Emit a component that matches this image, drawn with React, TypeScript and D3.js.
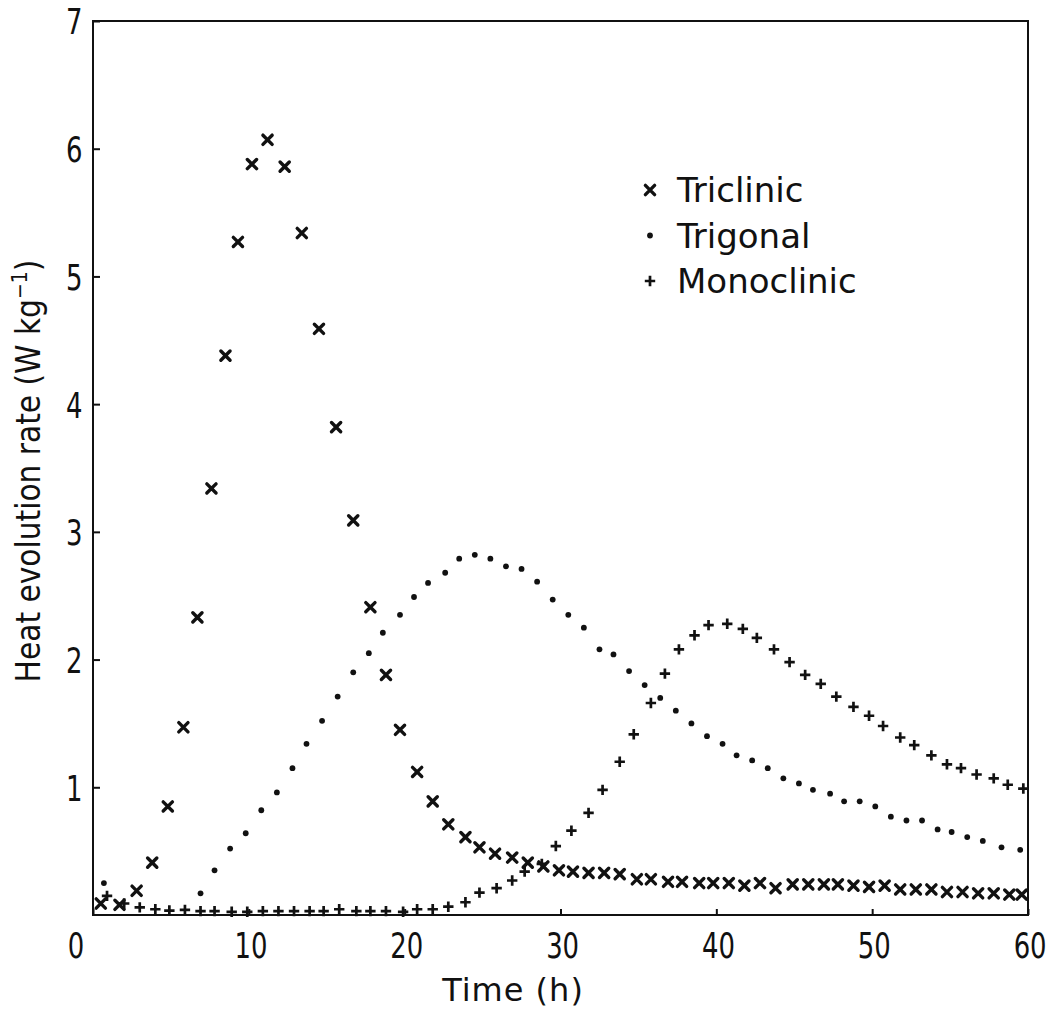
import React, { useRef, useEffect } from "react";
import * as d3 from "d3";

// Heat evolution rate (W/kg) vs time (h)
const triclinicTime = [0.5, 1.7, 2.8, 3.8, 4.8, 5.8, 6.7, 7.6, 8.5, 9.3, 10.2, 11.2, 12.3, 13.4, 14.5, 15.6, 16.7, 17.8, 18.8, 19.7, 20.8, 21.8, 22.8, 23.9, 24.8, 25.8, 26.9, 27.9, 28.9, 29.9, 30.8, 31.8, 32.8, 33.8, 34.9, 35.8, 36.9, 37.8, 38.9, 39.8, 40.8, 41.8, 42.8, 43.8, 44.9, 45.9, 46.9, 47.8, 48.8, 49.8, 50.8, 51.8, 52.8, 53.8, 54.8, 55.8, 56.8, 57.8, 58.8, 59.6];
const triclinicRate = [0.09, 0.08, 0.19, 0.41, 0.85, 1.47, 2.33, 3.34, 4.38, 5.27, 5.88, 6.07, 5.86, 5.34, 4.59, 3.82, 3.09, 2.41, 1.88, 1.45, 1.12, 0.89, 0.71, 0.61, 0.53, 0.48, 0.45, 0.41, 0.38, 0.35, 0.34, 0.33, 0.33, 0.32, 0.28, 0.28, 0.26, 0.26, 0.25, 0.25, 0.25, 0.23, 0.25, 0.21, 0.24, 0.24, 0.24, 0.24, 0.23, 0.22, 0.23, 0.2, 0.2, 0.2, 0.18, 0.18, 0.17, 0.17, 0.16, 0.16];

const trigonalTime = [0.7, 6.9, 7.8, 8.8, 9.8, 10.8, 11.8, 12.8, 13.7, 14.7, 15.7, 16.7, 17.7, 18.6, 19.7, 20.6, 21.5, 22.6, 23.5, 24.5, 25.5, 26.5, 27.5, 28.5, 29.5, 30.5, 31.5, 32.5, 33.4, 34.4, 35.4, 36.4, 37.4, 38.4, 39.4, 40.4, 41.3, 42.3, 43.3, 44.3, 45.3, 46.2, 47.3, 48.2, 49.2, 50.2, 51.2, 52.2, 53.2, 54.2, 55.1, 56.1, 57.1, 58.3, 59.5];
const trigonalRate = [0.25, 0.17, 0.35, 0.52, 0.64, 0.82, 0.96, 1.15, 1.34, 1.52, 1.71, 1.9, 2.05, 2.21, 2.35, 2.49, 2.6, 2.68, 2.79, 2.82, 2.79, 2.73, 2.71, 2.61, 2.47, 2.35, 2.25, 2.08, 2.04, 1.91, 1.8, 1.7, 1.6, 1.5, 1.4, 1.34, 1.25, 1.21, 1.15, 1.07, 1.03, 0.98, 0.95, 0.89, 0.89, 0.85, 0.77, 0.74, 0.74, 0.67, 0.65, 0.61, 0.58, 0.53, 0.51];

const monoclinicTime = [0.9, 2.0, 3.0, 4.0, 4.9, 5.9, 6.9, 7.8, 8.9, 9.9, 10.9, 11.9, 12.9, 13.9, 14.8, 15.8, 16.9, 17.8, 18.8, 19.9, 20.8, 21.8, 22.8, 23.9, 24.8, 25.9, 26.9, 27.7, 28.8, 29.7, 30.7, 31.8, 32.7, 33.8, 34.7, 35.8, 36.7, 37.6, 38.6, 39.5, 40.7, 41.7, 42.6, 43.7, 44.7, 45.7, 46.7, 47.7, 48.8, 49.8, 50.7, 51.8, 52.7, 53.8, 54.8, 55.7, 56.7, 57.8, 58.7, 59.7];
const monoclinicRate = [0.15, 0.09, 0.06, 0.045, 0.035, 0.04, 0.03, 0.03, 0.025, 0.025, 0.03, 0.03, 0.03, 0.03, 0.03, 0.045, 0.03, 0.03, 0.03, 0.025, 0.045, 0.045, 0.065, 0.1, 0.175, 0.21, 0.27, 0.34, 0.4, 0.54, 0.66, 0.8, 0.98, 1.2, 1.415, 1.66, 1.89, 2.08, 2.19, 2.27, 2.28, 2.24, 2.17, 2.08, 1.98, 1.88, 1.81, 1.71, 1.63, 1.56, 1.48, 1.39, 1.33, 1.25, 1.18, 1.15, 1.1, 1.07, 1.02, 0.99];

const seriesNames = ["Triclinic", "Trigonal", "Monoclinic"];
const xTicks = [0, 10, 20, 30, 40, 50, 60];
const yTicks = [1, 2, 3, 4, 5, 6, 7];

const W = 1051;
const H = 1012;

const App = () => {
    const ref = useRef(null);

    useEffect(() => {
        if (!ref.current) return;
        const svg = d3.select(ref.current);
        svg.selectAll("*").remove();

        const margin = { top: 21, right: 23, bottom: 97, left: 93 };
        const width = W - margin.left - margin.right;
        const height = H - margin.top - margin.bottom;

        const g = svg
            .append("g")
            .attr("transform", `translate(${margin.left},${margin.top})`);

        const x = d3.scaleLinear().domain([0, 60]).range([0, width]);
        const y = d3.scaleLinear().domain([0, 7]).range([height, 0]);

        const digitFont = "'DejaVu Sans Condensed', 'DejaVu Sans', sans-serif";
        const textFont = "'DejaVu Sans', sans-serif";

        // frame
        g.append("rect")
            .attr("width", width)
            .attr("height", height)
            .attr("fill", "none")
            .attr("stroke", "#111")
            .attr("stroke-width", 2);

        // x axis, ticks pointing in
        const xAxis = g
            .append("g")
            .attr("transform", `translate(0,${height})`)
            .call(d3.axisBottom(x).tickValues(xTicks).tickSize(-6).tickFormat(d3.format("d")));
        xAxis.select(".domain").remove();
        xAxis.selectAll(".tick line").attr("stroke", "#111").attr("stroke-width", 2);
        xAxis
            .selectAll(".tick text")
            .attr("fill", "#111")
            .style("font-family", digitFont)
            .style("font-size", "36px")
            .attr("y", 43)
            .attr("dy", 0)
            .attr("x", (d) => (d === 0 ? -22 : 2))
            .attr("transform", "scale(0.8,1)");

        // y axis
        const yAxis = g
            .append("g")
            .call(d3.axisLeft(y).tickValues(yTicks).tickSize(-7).tickFormat(d3.format("d")));
        yAxis.select(".domain").remove();
        yAxis.selectAll(".tick line").attr("stroke", "#111").attr("stroke-width", 2);
        yAxis
            .selectAll(".tick text")
            .attr("fill", "#111")
            .style("font-family", digitFont)
            .style("font-size", "36px")
            .attr("x", -13)
            .attr("dy", "0.36em")
            .attr("transform", "scale(0.8,1)");

        // axis titles
        svg.append("text")
            .attr("x", 513)
            .attr("y", 1001)
            .attr("text-anchor", "middle")
            .style("font-family", textFont)
            .style("font-size", "32px")
            .style("letter-spacing", "1px")
            .attr("fill", "#111")
            .text("Time (h)");

        const yl = svg
            .append("text")
            .attr("transform", `translate(40,${margin.top + height / 2 + 3}) rotate(-90)`)
            .attr("text-anchor", "middle")
            .style("font-family", "'DejaVu Sans Condensed', sans-serif")
            .style("font-size", "33px")
            .attr("fill", "#111");
        yl.append("tspan").text("Heat evolution rate (W kg");
        yl.append("tspan").attr("dy", -13).style("font-size", "21px").text("\u22121");
        yl.append("tspan").attr("dy", 13).text(")");

        // marker drawers
        const drawCross = (sel, cx, cy) => {
            const s = 4.6;
            sel.append("path")
                .attr("d", `M${cx - s},${cy - s}L${cx + s},${cy + s}M${cx - s},${cy + s}L${cx + s},${cy - s}`)
                .attr("stroke", "#111")
                .attr("stroke-width", 3.4)
                .attr("stroke-linecap", "round");
        };
        const drawDot = (sel, cx, cy) => {
            sel.append("circle").attr("cx", cx).attr("cy", cy).attr("r", 2.9).attr("fill", "#111");
        };
        const drawPlus = (sel, cx, cy) => {
            const s = 5.2;
            sel.append("path")
                .attr("d", `M${cx - s},${cy}L${cx + s},${cy}M${cx},${cy - s}L${cx},${cy + s}`)
                .attr("stroke", "#111")
                .attr("stroke-width", 2.7);
        };

        const pts = g.append("g");
        triclinicTime.forEach((t, i) => drawCross(pts, x(t), y(triclinicRate[i])));
        trigonalTime.forEach((t, i) => drawDot(pts, x(t), y(trigonalRate[i])));
        monoclinicTime.forEach((t, i) => drawPlus(pts, x(t), y(monoclinicRate[i])));

        // legend
        const drawers = [drawCross, drawDot, drawPlus];
        const legend = svg.append("g");
        seriesNames.forEach((name, i) => {
            const ly = 190 + i * 45.5;
            drawers[i](legend, 650, ly);
            legend
                .append("text")
                .attr("x", 677)
                .attr("y", ly + 12)
                .style("font-family", textFont)
                .style("font-size", "34px")
                .attr("fill", "#111")
                .text(name);
        });
    }, []);

    return (
        <div style={{ position: "absolute", left: 0, top: 0 }}>
            <svg ref={ref} width={W} height={H} style={{ display: "block", background: "#fff" }} />
        </div>
    );
};

export default App;
